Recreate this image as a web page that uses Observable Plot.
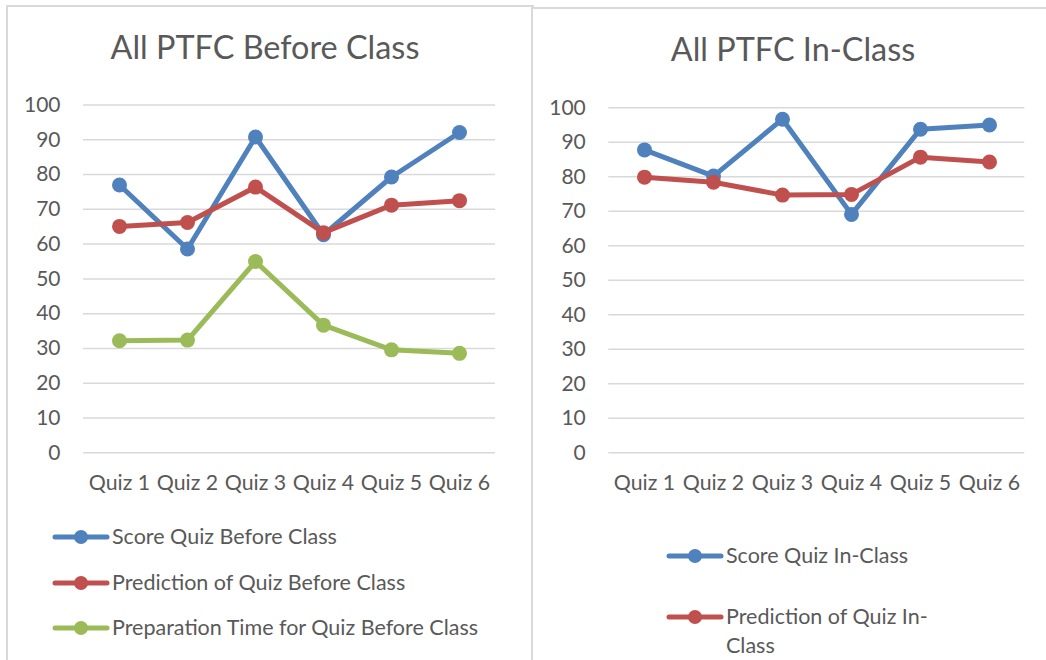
<!DOCTYPE html>
<html>
<head>
<meta charset="utf-8">
<script src="https://cdn.jsdelivr.net/npm/d3@7"></script>
<script src="https://cdn.jsdelivr.net/npm/@observablehq/plot@0.6"></script>
<style>
  html, body { margin: 0; padding: 0; background: #fff; }
  body { width: 1046px; height: 660px; position: relative; overflow: hidden; font-family: Lato, "Open Sans", sans-serif; color: #595959; }
  .panel { position: absolute; border: 2px solid #d9d9d9; border-bottom: none; background: #fff; }
  .title { position: absolute; font-size: 32.4px; color: #595959; white-space: nowrap; transform: translateX(-50%); }
  .plot { position: absolute; }
  .legend { position: absolute; font-size: 21.5px; color: #595959; }
  .legend .item { position: absolute; display: flex; align-items: flex-start; white-space: nowrap; }
  .legend svg { flex: none; }
</style>
</head>
<body>
<div class="panel" style="left:6px; top:5px; width:524px; height:700px;"></div>
<div class="panel" style="left:531px; top:7px; width:600px; height:700px;"></div>
<div id="title1" class="title" style="left:265px; top:27px;"></div>
<div id="title2" class="title" style="left:793px; top:29px;"></div>
<div id="plot1" class="plot" style="left:0px; top:90px;"></div>
<div id="plot2" class="plot" style="left:527px; top:90px;"></div>
<div id="legend1" class="legend"></div>
<div id="legend2" class="legend"></div>
<script>
const quizzes = ["Quiz 1", "Quiz 2", "Quiz 3", "Quiz 4", "Quiz 5", "Quiz 6"];
const yTicks = [0, 10, 20, 30, 40, 50, 60, 70, 80, 90, 100];

const titleBefore = "All PTFC Before Class";
const titleIn = "All PTFC In-Class";

const seriesBefore = ["Score Quiz Before Class", "Prediction of Quiz Before Class", "Preparation Time for Quiz Before Class"];
const scoreBefore = [77, 58.6, 90.8, 62.7, 79.3, 92.1];
const predictionBefore = [65.1, 66.2, 76.4, 63.3, 71.2, 72.5];
const prepTimeBefore = [32.2, 32.4, 55, 36.7, 29.6, 28.6];

const seriesIn = ["Score Quiz In-Class", "Prediction of Quiz In-Class"];
const scoreIn = [87.8, 80.2, 96.7, 69.1, 93.8, 95.0];
const predictionIn = [79.9, 78.4, 74.7, 74.9, 85.7, 84.3];

const colors = ["#4f81bd", "#c0504d", "#9bbb59"];

function toRows(names, arrays) {
  const rows = [];
  names.forEach((name, i) => arrays[i].forEach((v, j) => rows.push({series: name, quiz: quizzes[j], value: v})));
  return rows;
}

function makeChart(names, arrays, opts) {
  const data = toRows(names, arrays);
  return Plot.plot({
    width: opts.width,
    height: opts.height,
    marginLeft: opts.marginLeft,
    marginRight: opts.marginRight,
    marginTop: opts.marginTop,
    marginBottom: opts.marginBottom,
    style: {fontFamily: "Lato, 'Open Sans', sans-serif", fontSize: "21px", color: "#595959", background: "transparent", overflow: "visible"},
    x: {type: "point", domain: quizzes, padding: 0.5, label: null},
    y: {domain: [0, 100], label: null},
    color: {domain: names, range: colors.slice(0, names.length)},
    marks: [
      Plot.gridY(yTicks, {stroke: "#d9d9d9", strokeOpacity: 1, strokeWidth: 1.5}),
      Plot.axisY(yTicks, {tickSize: 0, tickPadding: opts.yPad, fontSize: 21, fill: "#595959", label: null}),
      Plot.axisX(quizzes, {tickSize: 0, tickPadding: 22, fontSize: 21.3, fill: "#595959", label: null}),
      Plot.line(data, {x: "quiz", y: "value", z: "series", stroke: "series", strokeWidth: 5, strokeLinejoin: "round", strokeLinecap: "round"}),
      Plot.dot(data, {x: "quiz", y: "value", fill: "series", r: 7.5})
    ]
  });
}

document.getElementById("title1").textContent = titleBefore;
document.getElementById("title2").textContent = titleIn;

document.getElementById("plot1").append(makeChart(seriesBefore, [scoreBefore, predictionBefore, prepTimeBefore],
  {width: 527, height: 410, marginLeft: 83, marginRight: 32, marginTop: 14.5, marginBottom: 47.7, yPad: 23}));
document.getElementById("plot2").append(makeChart(seriesIn, [scoreIn, predictionIn],
  {width: 519, height: 410, marginLeft: 81.3, marginRight: 21.7, marginTop: 17.3, marginBottom: 47.7, yPad: 23}));

function swatch(color) {
  const svg = d3.create("svg").attr("width", 58).attr("height", 24);
  svg.append("line").attr("x1", 3).attr("x2", 55).attr("y1", 12).attr("y2", 12)
    .attr("stroke", color).attr("stroke-width", 5).attr("stroke-linecap", "round");
  svg.append("circle").attr("cx", 29).attr("cy", 12).attr("r", 7).attr("fill", color);
  return svg.node();
}

function legend(el, names, positions, maxWidth) {
  names.forEach((name, i) => {
    const item = document.createElement("div");
    item.className = "item";
    item.style.left = positions[i][0] + "px";
    item.style.top = positions[i][1] + "px";
    item.append(swatch(colors[i]));
    const t = document.createElement("span");
    t.textContent = name;
    t.style.marginLeft = "2px";
    t.style.lineHeight = "29px";
    t.style.marginTop = "-3px";
    if (maxWidth) { t.style.whiteSpace = "normal"; t.style.width = maxWidth + "px"; }
    item.append(t);
    el.append(item);
  });
}
legend(document.getElementById("legend1"), seriesBefore, [[52, 525], [52, 571], [52, 616]]);
legend(document.getElementById("legend2"), seriesIn, [[666, 544], [666, 605]], 215);
</script>
</body>
</html>
